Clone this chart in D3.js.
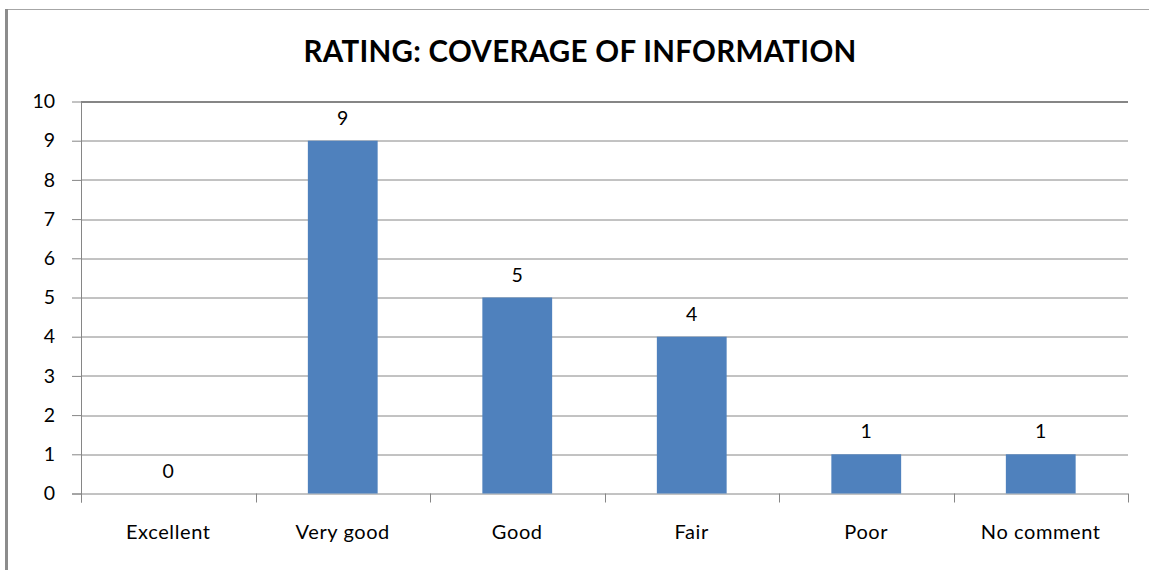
<!DOCTYPE html>
<html>
<head>
<meta charset="utf-8">
<script src="https://cdn.jsdelivr.net/npm/d3@7"></script>
<style>
  body { margin: 0; background: #fff; }
  text { font-family: Lato, "Open Sans", sans-serif; fill: #000; }
</style>
</head>
<body>
<div id="chart"></div>
<script>
const categories = ["Excellent", "Very good", "Good", "Fair", "Poor", "No comment"];
const values = [0, 9, 5, 4, 1, 1];
const yTicks = [0, 1, 2, 3, 4, 5, 6, 7, 8, 9, 10];
const title = "RATING: COVERAGE OF INFORMATION";

const W = 1149, H = 570;
const margin = { top: 101.5, right: 21, bottom: 76.5, left: 81 };
const width = W - margin.left - margin.right,
  height = H - margin.top - margin.bottom;

const svg = d3.select("#chart").append("svg")
  .attr("width", W)
  .attr("height", H);

// frame
svg.append("line")
  .attr("x1", 5).attr("x2", W).attr("y1", 9.5).attr("y2", 9.5)
  .attr("stroke", "#a6a6a6").attr("stroke-width", 1);
svg.append("line")
  .attr("x1", 6.5).attr("x2", 6.5).attr("y1", 9).attr("y2", H)
  .attr("stroke", "#8c8c8c").attr("stroke-width", 3);

svg.append("text")
  .attr("x", 580)
  .attr("y", 62)
  .attr("text-anchor", "middle")
  .style("font-size", "29.5px")
  .style("font-weight", "bold")
  .style("letter-spacing", "0.3px")
  .text(title);

const g = svg.append("g")
  .attr("transform", "translate(" + margin.left + "," + margin.top + ")");

const x = d3.scaleBand()
  .domain(categories)
  .range([0, width])
  .paddingInner(0.6)
  .paddingOuter(0.3);

const y = d3.scaleLinear()
  .domain([0, 10])
  .range([height, 0]);

// gridlines
g.append("g")
  .selectAll("line")
  .data(yTicks.filter(d => d > 0))
  .join("line")
  .attr("x1", 0).attr("x2", width)
  .attr("y1", d => Math.round(y(d)) + 0.5)
  .attr("y2", d => Math.round(y(d)) + 0.5)
  .attr("stroke", "#868686")
  .attr("stroke-width", d => d === 10 ? 2 : 1);

// y axis
const yAxis = d3.axisLeft(y)
  .tickValues(yTicks)
  .tickSize(9)
  .tickPadding(17);
const ya = g.append("g").attr("class", "axis axis--y").call(yAxis);
ya.select(".domain").remove();
ya.selectAll(".tick line").attr("stroke", "#868686");
ya.selectAll(".tick text").style("font-size", "19.5px");
ya.append("line")
  .attr("x1", 0.5).attr("x2", 0.5).attr("y1", 0).attr("y2", height + 9)
  .attr("stroke", "#868686");

// x axis
const xa = g.append("g")
  .attr("transform", "translate(0," + height + ")");
xa.append("line")
  .attr("x1", -9).attr("x2", width).attr("y1", 0.5).attr("y2", 0.5)
  .attr("stroke", "#868686");
xa.selectAll(".sep")
  .data(d3.range(categories.length + 1))
  .join("line")
  .attr("class", "sep")
  .attr("x1", i => Math.round(i * width / categories.length) + 0.5)
  .attr("x2", i => Math.round(i * width / categories.length) + 0.5)
  .attr("y1", 0).attr("y2", 9)
  .attr("stroke", "#868686");
xa.selectAll(".lbl")
  .data(categories)
  .join("text")
  .attr("class", "lbl")
  .attr("x", d => x(d) + x.bandwidth() / 2)
  .attr("y", 45)
  .attr("text-anchor", "middle")
  .style("font-size", "20px")
  .style("letter-spacing", "0.6px")
  .text(d => d);

// bars
const data = categories.map((c, i) => ({ c: c, v: values[i] }));
g.selectAll(".bar")
  .data(data)
  .join("rect")
  .attr("class", "bar")
  .attr("x", d => x(d.c))
  .attr("width", x.bandwidth())
  .attr("y", d => y(d.v))
  .attr("height", d => height - y(d.v))
  .attr("fill", "#4f81bd");

g.selectAll(".val")
  .data(data)
  .join("text")
  .attr("class", "val")
  .attr("x", d => x(d.c) + x.bandwidth() / 2)
  .attr("y", d => y(d.v) - 16)
  .attr("text-anchor", "middle")
  .style("font-size", "19.5px")
  .text(d => d.v);
</script>
</body>
</html>
